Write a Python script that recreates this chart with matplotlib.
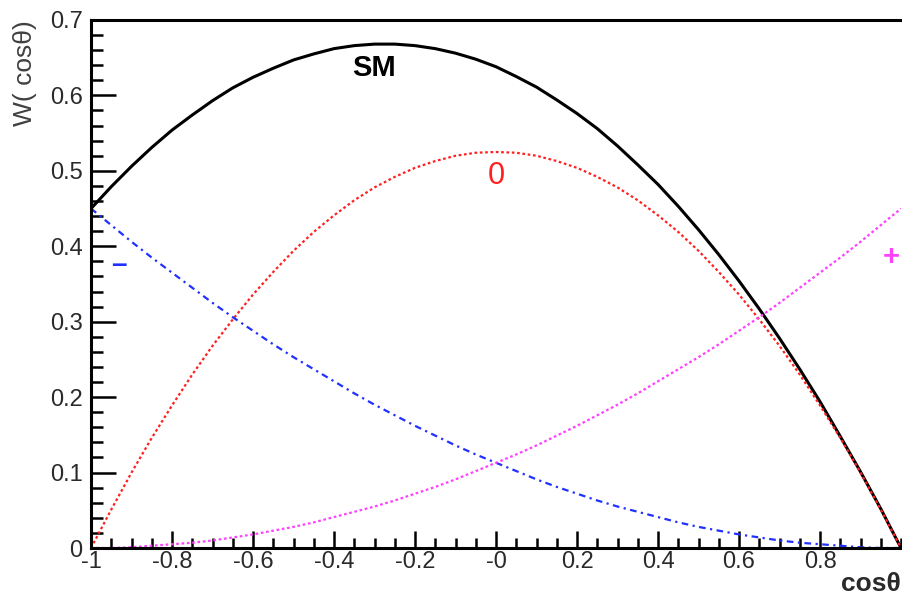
import matplotlib
matplotlib.use("Agg")
import matplotlib.pyplot as plt
from matplotlib.ticker import MultipleLocator, FixedLocator, FixedFormatter

# cos(theta) sample points
cos_theta = [-1.00, -0.95, -0.90, -0.85, -0.80, -0.75, -0.70, -0.65, -0.60, -0.55,
             -0.50, -0.45, -0.40, -0.35, -0.30, -0.25, -0.20, -0.15, -0.10, -0.05,
             0.00, 0.05, 0.10, 0.15, 0.20, 0.25, 0.30, 0.35, 0.40, 0.45,
             0.50, 0.55, 0.60, 0.65, 0.70, 0.75, 0.80, 0.85, 0.90, 0.95, 1.00]
w_sm = [0.450, 0.479, 0.506, 0.531, 0.554, 0.574, 0.593, 0.610, 0.624, 0.636,
        0.647, 0.655, 0.662, 0.666, 0.668, 0.668, 0.666, 0.662, 0.656, 0.648,
        0.638, 0.625, 0.611, 0.594, 0.576, 0.556, 0.533, 0.508, 0.482, 0.453,
        0.422, 0.389, 0.354, 0.317, 0.278, 0.237, 0.194, 0.148, 0.101, 0.052, 0.000]
w_zero = [0.000, 0.051, 0.100, 0.146, 0.189, 0.230, 0.268, 0.303, 0.336, 0.366,
          0.394, 0.419, 0.441, 0.461, 0.478, 0.492, 0.504, 0.513, 0.520, 0.524,
          0.525, 0.524, 0.520, 0.513, 0.504, 0.492, 0.478, 0.461, 0.441, 0.419,
          0.394, 0.366, 0.336, 0.303, 0.268, 0.230, 0.189, 0.146, 0.100, 0.051, 0.000]
w_minus = [0.450, 0.428, 0.406, 0.385, 0.365, 0.345, 0.325, 0.306, 0.288, 0.270,
           0.253, 0.237, 0.221, 0.205, 0.190, 0.176, 0.162, 0.149, 0.136, 0.124,
           0.113, 0.102, 0.091, 0.081, 0.072, 0.063, 0.055, 0.048, 0.041, 0.034,
           0.028, 0.023, 0.018, 0.014, 0.010, 0.007, 0.005, 0.003, 0.001, 0.000, 0.000]
w_plus = [0.000, 0.000, 0.001, 0.003, 0.005, 0.007, 0.010, 0.014, 0.018, 0.023,
          0.028, 0.034, 0.041, 0.048, 0.055, 0.063, 0.072, 0.081, 0.091, 0.102,
          0.113, 0.124, 0.136, 0.149, 0.162, 0.176, 0.190, 0.205, 0.221, 0.237,
          0.253, 0.270, 0.288, 0.306, 0.325, 0.345, 0.365, 0.385, 0.406, 0.428, 0.450]

x_ticks = [-1.0, -0.8, -0.6, -0.4, -0.2, 0.0, 0.2, 0.4, 0.6, 0.8]
x_tick_labels = ["-1", "-0.8", "-0.6", "-0.4", "-0.2", "-0", "0.2", "0.4", "0.6", "0.8"]
y_ticks = [0.0, 0.1, 0.2, 0.3, 0.4, 0.5, 0.6, 0.7]
y_tick_labels = ["0", "0.1", "0.2", "0.3", "0.4", "0.5", "0.6", "0.7"]

plt.rcParams['font.family'] = ['Liberation Sans', 'DejaVu Sans']

fig = plt.figure(figsize=(9.03, 5.98), dpi=100)
ax = fig.add_axes([0.1008, 0.0836, 0.897, 0.883])

ax.plot(cos_theta, w_sm, color='black', lw=2.2, solid_capstyle='butt')
ax.plot(cos_theta, w_zero, color='#ff2020', lw=1.6, linestyle=(0, (1.2, 1.2)))
ax.plot(cos_theta, w_minus, color='#2030ff', lw=1.6, linestyle=(0, (3, 2, 1, 2)))
ax.plot(cos_theta, w_plus, color='#ff40ff', lw=1.6, linestyle=(0, (1.2, 1.2)))

ax.set_xlim(-1.0, 1.0)
ax.set_ylim(0.0, 0.7)

ax.text(-0.30, 0.636, "SM", fontsize=21, fontweight='bold', color='black', ha='center', va='center')
ax.text(0.0, 0.493, "0", fontsize=22, color='#ff2020', ha='center', va='center')
ax.text(-0.93, 0.375, "\u2013", fontsize=20, fontweight='bold', color='#2030ff', ha='center', va='center')
ax.text(0.975, 0.386, "+", fontsize=21, fontweight='bold', color='#ff40ff', ha='center', va='center')

ax.xaxis.set_major_locator(FixedLocator(x_ticks))
ax.xaxis.set_major_formatter(FixedFormatter(x_tick_labels))
ax.xaxis.set_minor_locator(MultipleLocator(0.05))
ax.yaxis.set_major_locator(FixedLocator(y_ticks))
ax.yaxis.set_major_formatter(FixedFormatter(y_tick_labels))
ax.yaxis.set_minor_locator(MultipleLocator(0.02))

ax.tick_params(axis='x', which='major', direction='in', length=12, width=1.8, pad=2,
               labelsize=17, labelcolor='#2a2a2a', top=False)
ax.tick_params(axis='x', which='minor', direction='in', length=7, width=1.8, top=False)
ax.tick_params(axis='y', which='major', direction='in', length=18, width=1.8, pad=6,
               labelsize=17, labelcolor='#2a2a2a', right=False)
ax.tick_params(axis='y', which='minor', direction='in', length=8.5, width=1.8, right=False)

for s in ['left', 'bottom', 'top']:
    ax.spines[s].set_linewidth(2.2)
ax.spines['right'].set_visible(False)

fig.text(0.028, 0.966, "W( cos\u03b8)", rotation=90, fontsize=19, color='#404040',
         ha='center', va='top')
fig.text(0.997, 0.004, "cos\u03b8", fontsize=19, fontweight='bold', color='#2a2a2a',
         ha='right', va='bottom')

fig.savefig("out.png", dpi=100)
